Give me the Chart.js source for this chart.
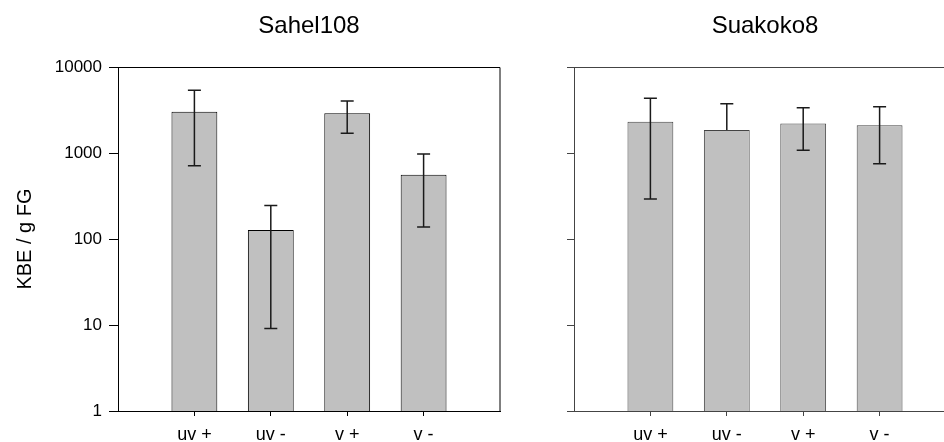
<!DOCTYPE html>
<html>
<head>
<meta charset="utf-8">
<script src="https://cdn.jsdelivr.net/npm/chart.js@4/dist/chart.umd.min.js"></script>
<style>
  html, body { margin: 0; padding: 0; background: #fff; overflow: hidden; }
  body { width: 944px; height: 442px; position: relative; }
  .panel { position: absolute; top: 0; }
  #left { left: 0; }
  #right { left: 456px; }
</style>
</head>
<body>
<div class="panel" id="left"><canvas id="chartSahel" width="520" height="442"></canvas></div>
<div class="panel" id="right"><canvas id="chartSuakoko" width="520" height="442"></canvas></div>
<script>
// categories shown on the x axis
const categories = ['uv +', 'uv -', 'v +', 'v -'];
const yTicks = [1, 10, 100, 1000, 10000];

// Sahel108 (KBE / g FG, log scale)
const sahelMean = [3020, 127, 2895, 560];
const sahelUpper = [5360, 246, 4020, 973];
const sahelLower = [711, 9.1, 1694, 138];

// Suakoko8
const suakokoMean = [2310, 1850, 2210, 2100];
const suakokoUpper = [4330, 3740, 3365, 3455];
const suakokoLower = [292, null, 1075, 751];

const FONT = 'Liberation Sans, Arial, sans-serif';

// empty slots on both ends so the bars sit at 1..4 on a 0..5 axis
const pad = (arr) => [null, ...arr, null];
const axisLabels = pad(categories).map((c) => c || '');

const errorBars = {
    id: 'errorBars',
    afterDatasetsDraw(chart, args, opts) {
        const ctx = chart.ctx;
        const meta = chart.getDatasetMeta(0);
        const y = chart.scales.y;
        ctx.save();
        ctx.strokeStyle = opts.color;
        ctx.lineWidth = 1.5;
        meta.data.forEach((bar, i) => {
            const hi = opts.upper[i];
            if (hi == null) return;
            const lo = opts.lower[i];
            const x = bar.x;
            const yHi = y.getPixelForValue(hi);
            const yLo = lo == null ? bar.y : y.getPixelForValue(lo);
            ctx.beginPath();
            ctx.moveTo(x, yHi);
            ctx.lineTo(x, yLo);
            ctx.moveTo(x - 6.5, yHi);
            ctx.lineTo(x + 6.5, yHi);
            if (lo != null) {
                ctx.moveTo(x - 6.5, yLo);
                ctx.lineTo(x + 6.5, yLo);
            }
            ctx.stroke();
        });
        ctx.restore();
    }
};

// top and right edges of the frame
const frame = {
    id: 'frame',
    afterDraw(chart, args, opts) {
        const a = chart.chartArea;
        const ctx = chart.ctx;
        ctx.save();
        ctx.strokeStyle = opts.color;
        ctx.lineWidth = 1;
        ctx.beginPath();
        ctx.moveTo(a.left, Math.round(a.top) + 0.5);
        ctx.lineTo(a.right, Math.round(a.top) + 0.5);
        ctx.lineTo(a.right, a.bottom);
        ctx.stroke();
        ctx.restore();
    }
};

function makeChart(canvasId, title, mean, upper, lower, showYLabels, lineColor) {
    return new Chart(document.getElementById(canvasId), {
        type: 'bar',
        data: {
            labels: axisLabels,
            datasets: [{
                data: pad(mean),
                backgroundColor: '#c0c0c0',
                borderColor: lineColor,
                borderWidth: 1,
                barPercentage: 0.6,
                categoryPercentage: 1
            }]
        },
        plugins: [errorBars, frame],
        options: {
            responsive: false,
            devicePixelRatio: 1,
            animation: false,
            layout: { padding: { left: 0, right: 20, top: 0, bottom: 0 } },
            plugins: {
                legend: { display: false },
                tooltip: { enabled: false },
                title: {
                    display: true,
                    fullSize: false,
                    text: title,
                    color: '#000',
                    font: { family: FONT, size: 24, weight: 'normal' },
                    padding: { top: 12, bottom: 26.2 }
                },
                errorBars: { upper: pad(upper), lower: pad(lower), color: '#1a1a1a' },
                frame: { color: lineColor }
            },
            scales: {
                x: {
                    offset: false,
                    grid: {
                        offset: false,
                        drawOnChartArea: false,
                        drawTicks: true,
                        tickLength: 5,
                        tickColor: (c) => (c.index === 0 || c.index === axisLabels.length - 1) ? 'rgba(0,0,0,0)' : lineColor
                    },
                    border: { display: true, color: lineColor, width: 1 },
                    ticks: {
                        color: '#000',
                        font: { family: FONT, size: 18 },
                        padding: 8,
                        maxRotation: 0,
                        autoSkip: false
                    },
                    afterFit: (s) => { s.height = 31; }
                },
                y: {
                    type: 'logarithmic',
                    min: 1,
                    max: 10000,
                    grid: {
                        drawOnChartArea: false,
                        drawTicks: true,
                        tickLength: showYLabels ? 9 : 7,
                        tickColor: lineColor
                    },
                    border: { display: true, color: lineColor, width: 1 },
                    afterBuildTicks: (s) => { s.ticks = yTicks.map((v) => ({ value: v })); },
                    ticks: {
                        color: '#000',
                        font: { family: FONT, size: 17 },
                        padding: 7,
                        callback: (v) => showYLabels ? String(v) : ''
                    },
                    title: {
                        display: showYLabels,
                        text: 'KBE / g FG',
                        color: '#000',
                        font: { family: FONT, size: 20 },
                        padding: { top: 13, bottom: 0 }
                    },
                    afterFit: (s) => { s.width = 118; }
                }
            }
        }
    });
}

makeChart('chartSahel', 'Sahel108', sahelMean, sahelUpper, sahelLower, true, '#000');
makeChart('chartSuakoko', 'Suakoko8', suakokoMean, suakokoUpper, suakokoLower, false, '#444');
</script>
</body>
</html>
